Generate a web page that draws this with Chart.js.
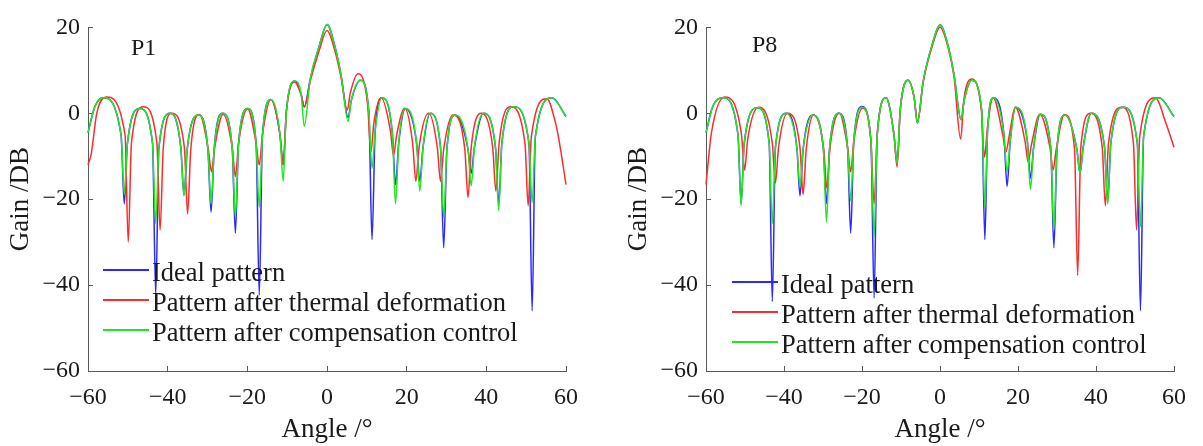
<!DOCTYPE html>
<html>
<head>
<meta charset="utf-8">
<script src="https://cdn.jsdelivr.net/npm/chart.js@4.4.1/dist/chart.umd.min.js"></script>
<style>
    body { margin: 0; background: #fff; width: 1203px; height: 446px; overflow: hidden; position: relative; font-family: "Liberation Serif", "Times New Roman", serif; }
    .panel { position: absolute; top: 0; height: 446px; }
    #panelP1 { left: 0; width: 600px; }
    #panelP8 { left: 618px; width: 585px; }
    .tag { position: absolute; font-size: 24px; line-height: 24px; color: #1a1a1a; }
    .row { position: absolute; height: 30px; display: flex; align-items: center; font-size: 26.5px; line-height: 30px; color: #1a1a1a; white-space: nowrap; }
    .row .swatch { width: 46px; height: 1.5px; margin-right: 3px; }
    .row .txt { position: relative; top: 2px; }
</style>
</head>
<body>
<div class="panel" id="panelP1"><canvas id="chartP1" width="600" height="446"></canvas></div>
<div class="panel" id="panelP8"><canvas id="chartP8" width="585" height="446"></canvas></div>
<script>
// P1 - ideal / compensated share the same angles
const anglesP1 = [-60, -58.3, -56.2, -51.7, -50.9, -50.1, -47, -43.8, -43, -42.2, -39.4, -36.7, -35.9, -35.1, -32.3, -29.9, -29.1, -28.3, -26.2, -23.8,
    -23, -22.2, -19.9, -17.8, -17, -16.2, -14.1, -11.8, -11, -10.2, -8.1, -6.5, -5.7, -4.2, -2, 0, 2, 3.6, 5.3, 6.1,
    8.4, 10.5, 11.3, 12.1, 13.8, 16.4, 17.2, 18, 19.7, 22.5, 23.3, 24.1, 25.9, 28.5, 29.3, 30.1, 32.2, 35.4, 36.2, 37,
    39.3, 42.3, 43.1, 43.9, 46.9, 50.7, 51.5, 52.3, 56.5, 60];
const idealP1 = [-4.5, 1.5, 3.6, -5, -21.1, -7, 1.1, -7, -42.3, -8, 0, -8, -19, -8.4, -0.4, -8.4, -23, -8, 0, -8,
    -27.9, -7, 1.1, -7, -42.3, -5, 3.2, -5, -12, 0.5, 7.5, 4.5, 1.5, 8, 15.5, 20.7, 15.5, 8.5, -1, 3,
    7.7, 0.5, -29.4, -4, 3.6, -4.5, -16.6, -7, 1.1, -7, -15.8, -8, 0, -8, -31.3, -8.4, -0.4, -8.4, -14, -8,
    0, -8, -21.1, -7, 1.5, -7, -46, -5.5, 3.6, -0.75];
const compP1 = [-4.5, 1.5, 3.6, -5, -18.9, -7, 1.1, -7, -25.7, -8, 0, -8, -19.2, -8.4, -0.4, -8.4, -21.1, -8, 0, -8,
    -24.2, -7, 1.1, -7, -21.9, -5, 3.2, -5, -15.8, 0.5, 7.5, 4.5, -3, 8, 15.5, 20.7, 15.5, 8.5, -1.9, 3,
    7.7, 0.5, -12.8, -4, 3.6, -4.5, -21.1, -7, 1.1, -7, -18.1, -8, 0, -8, -24.2, -8.4, -0.4, -8.4, -16.9, -8,
    0, -8, -22.6, -7, 1.5, -7, -20.8, -5.5, 3.6, -0.75];
const anglesP1Red = [-60, -59.2, -57.8, -55.4, -50.7, -49.9, -49.1, -46.1, -42.7, -41.9, -41.1, -39, -35.8, -35, -34.2, -32, -29.8, -29, -28.2, -26.1,
    -23.8, -23, -22.2, -19.9, -17.8, -17, -16.2, -14.1, -11.8, -11, -10.2, -8.1, -6.5, -5.7, -4.2, -2, 0, 2, 3.5, 5.1,
    5.8, 7.8, 10.2, 11, 11.8, 13.6, 15.9, 16.7, 17.5, 19.5, 21.5, 22.3, 23.1, 25.5, 27.7, 28.5, 29.3, 31.6, 34.6, 35.4,
    36.2, 38.7, 41.6, 42.4, 43.2, 46, 49.7, 50.5, 51.3, 55.2, 57.3, 58.2, 60];
const thermalP1 = [-12, -9.5, 0, 3.8, -5, -30, -7, 1.5, -7, -27.2, -8, 0, -8, -23.4, -8.4, -0.3, -8.4, -13.6, -8, -0.2,
    -8, -14.7, -7, 1, -7, -12, -5, 3.2, -5, -12, 0.3, 7.3, 4.3, 1.5, 7.5, 14.5, 19.3, 14.5, 8.5, 0.75,
    4.5, 9.2, 2, -9, -2, 3.6, -4, -9.8, -5, 1.2, -7, -15.8, -8, 0, -8, -15.8, -8.4, -0.4, -8.4, -19.6,
    -8, 0, -8, -18.1, -7, 1.5, -7, -21.5, -5.5, 3.4, -2, -6, -16.6];

// P8
const anglesP8 = [-60, -58.3, -55.6, -51.8, -51, -50.2, -46.8, -43.8, -43, -42.2, -39.4, -36.7, -35.9, -35.1, -32.6, -29.9, -29.1, -28.3, -25.9, -23.7,
    -22.9, -22.1, -20, -17.7, -16.9, -16.1, -13.8, -11.8, -11, -10.2, -8.2, -6.6, -5.8, -4.3, -2, 0, 2, 3.6, 5.4, 6.2,
    8.1, 10.7, 11.5, 12.2, 13.7, 16.4, 17.2, 18, 19.4, 22.4, 23.2, 24, 25.7, 28.4, 29.2, 30, 32, 35.1, 35.9, 36.7,
    38.8, 42.2, 43, 43.8, 47, 50.6, 51.4, 52.2, 56.2, 60];
const idealP8 = [-4.5, 1.5, 3.6, -5, -21, -7, 1.3, -7, -43.8, -8, 0, -8, -19.2, -8.4, -0.4, -8.4, -21, -8, 0, -8,
    -27.9, -6.5, 1.6, -6.5, -43, -5, 3.6, -5, -11.7, 0.7, 7.7, 3.5, -2.3, 7.5, 16, 20.6, 16, 9, -1.5, 3,
    7.7, 0.7, -29.4, -4, 3.6, -5, -17, -6.5, 1.4, -6.5, -15.1, -8, -0.2, -8, -31.3, -8.4, -0.4, -8.4, -14, -8,
    0, -8, -20.5, -7, 1.4, -7, -46, -5.5, 3.6, -0.75];
const compP8 = [-4.5, 1.5, 3.6, -5, -21.5, -7, 1.3, -7, -25.7, -8, 0, -8, -17, -8.4, -0.4, -8.4, -25.3, -8, 0, -8,
    -20.4, -6.5, 1.4, -6.5, -28.7, -5, 3.6, -5, -11.7, 0.7, 7.7, 3.5, -2.3, 7.5, 16, 20.6, 16, 9, -1.5, 3,
    7.7, 0.7, -21.9, -4, 3.6, -5, -13.6, -6.5, 1.4, -6.5, -17.7, -8, -0.2, -8, -27.2, -8.4, -0.4, -8.4, -14, -8,
    0, -8, -21.1, -7, 1.4, -7, -26.4, -5.5, 3.6, -0.75];
const anglesP8Red = [-60, -58.6, -55.2, -50.9, -50.1, -49.3, -46.5, -43, -42.2, -41.4, -39.1, -35.9, -35.1, -34.3, -32.4, -29.8, -29, -28.2, -25.8, -23.7,
    -22.9, -22.1, -19.9, -17.7, -16.9, -16.1, -13.8, -11.8, -11, -10.2, -8.2, -6.6, -5.8, -4.3, -2, 0, 2, 3.6, 5.3, 6.1,
    8.1, 10.6, 11.4, 12.2, 13.6, 16.1, 16.9, 17.7, 19.3, 21.8, 22.6, 23.4, 25.6, 28.2, 29, 29.8, 31.9, 34.5, 35.3, 36.1,
    38.6, 41.6, 42.4, 43.2, 46.6, 49.6, 50.4, 51.2, 55.2, 58, 60];
const thermalP8 = [-16.6, -4.5, 3.8, -5, -13.2, -6, 1.4, -7, -16.2, -8, 0, -8, -18.9, -8.4, -0.4, -8.4, -17.4, -8, 0, -8,
    -13.6, -6.5, 1.2, -6.5, -21.1, -5, 3.6, -5, -12.5, 0.7, 7.7, 3.5, -2, 7.3, 15.6, 20.1, 15.6, 8.5, -6, 3,
    8, 0.8, -10.2, -3, 3.7, -5, -9, -5.5, 1.4, -6.5, -11.3, -7.5, -0.2, -8, -13.2, -8.4, -0.3, -8.4, -37.7, -8,
    0, -8, -21.5, -7, 1.4, -7, -27.2, -5.5, 3.6, -2.5, -7.9];

const xTicks = [-60, -40, -20, 0, 20, 40, 60];
const yTicks = [-60, -40, -20, 0, 20];
const seriesLabels = ["Ideal pattern", "Pattern after thermal deformation", "Pattern after compensation control"];

const serif = "'Liberation Serif', 'Times New Roman', serif";
const axisColor = "#5a5a5a";
const textColor = "#1a1a1a";

function minusSign(v) {
    return String(v).replace("-", "\u2212");
}

function buildPanel(canvasId, panelId, tag, sets, opts) {
    const styles = [
        { color: "#2a2aff", order: 2 },
        { color: "#ff2a2a", order: 1 },
        { color: "#22e622", order: 0 }
    ];
    const datasets = sets.map((s, i) => ({
        label: seriesLabels[i],
        data: s.angles.map((a, k) => ({ x: a, y: s.gains[k] })),
        borderColor: styles[i].color,
        backgroundColor: styles[i].color,
        borderWidth: 1.5,
        pointRadius: 0,
        fill: false,
        clip: false,
        cubicInterpolationMode: "monotone",
        order: styles[i].order
    }));

    const chart = new Chart(document.getElementById(canvasId), {
        type: "line",
        data: { datasets },
        options: {
            responsive: false,
            animation: false,
            layout: { padding: { left: 0, right: opts.padRight, top: 18, bottom: 0 } },
            plugins: { legend: { display: false }, tooltip: { enabled: false } },
            scales: {
                x: {
                    type: "linear",
                    min: -60, max: 60,
                    afterFit: (s) => { s.height = 75; },
                    afterBuildTicks: (s) => { s.ticks = xTicks.map(v => ({ value: v })); },
                    ticks: { padding: 17, color: textColor, font: { family: serif, size: 24 }, callback: minusSign, maxRotation: 0 },
                    grid: { drawOnChartArea: false, tickLength: -5, color: axisColor },
                    border: { color: axisColor, width: 1 },
                    title: { display: true, text: "Angle /°", color: textColor, font: { family: serif, size: 27 }, padding: { top: 0, bottom: 0 } }
                },
                y: {
                    type: "linear",
                    min: -60, max: 20,
                    afterFit: (s) => { s.width = 88; },
                    afterBuildTicks: (s) => { s.ticks = yTicks.map(v => ({ value: v })); },
                    ticks: { padding: 13, color: textColor, font: { family: serif, size: 24 }, callback: minusSign },
                    grid: { drawOnChartArea: false, tickLength: -5, color: axisColor },
                    border: { color: axisColor, width: 1 },
                    title: { display: true, text: "Gain /DB", color: textColor, font: { family: serif, size: 27 }, padding: { top: 5, bottom: 0 } }
                }
            }
        }
    });

    // panel tag and legend inside the plot, built from the datasets
    const panel = document.getElementById(panelId);
    const t = document.createElement("div");
    t.className = "tag";
    t.textContent = tag;
    t.style.left = opts.tagX + "px";
    t.style.top = opts.tagY + "px";
    panel.appendChild(t);

    [0, 1, 2].forEach((i) => {
        const ds = chart.data.datasets[i];
        const row = document.createElement("div");
        row.className = "row";
        row.style.left = opts.legendX + "px";
        row.style.top = (opts.legendY + i * 30 - 15) + "px";
        const sw = document.createElement("span");
        sw.className = "swatch";
        sw.style.background = ds.borderColor;
        const tx = document.createElement("span");
        tx.className = "txt";
        tx.textContent = ds.label;
        row.appendChild(sw);
        row.appendChild(tx);
        panel.appendChild(row);
    });
    return chart;
}

buildPanel("chartP1", "panelP1", "P1", [
    { angles: anglesP1, gains: idealP1 },
    { angles: anglesP1Red, gains: thermalP1 },
    { angles: anglesP1, gains: compP1 }
], { padRight: 34, tagX: 131, tagY: 35, legendX: 103, legendY: 270 });

buildPanel("chartP8", "panelP8", "P8", [
    { angles: anglesP8, gains: idealP8 },
    { angles: anglesP8Red, gains: thermalP8 },
    { angles: anglesP8, gains: compP8 }
], { padRight: 19, tagX: 134, tagY: 32, legendX: 114, legendY: 282 });
</script>
</body>
</html>
